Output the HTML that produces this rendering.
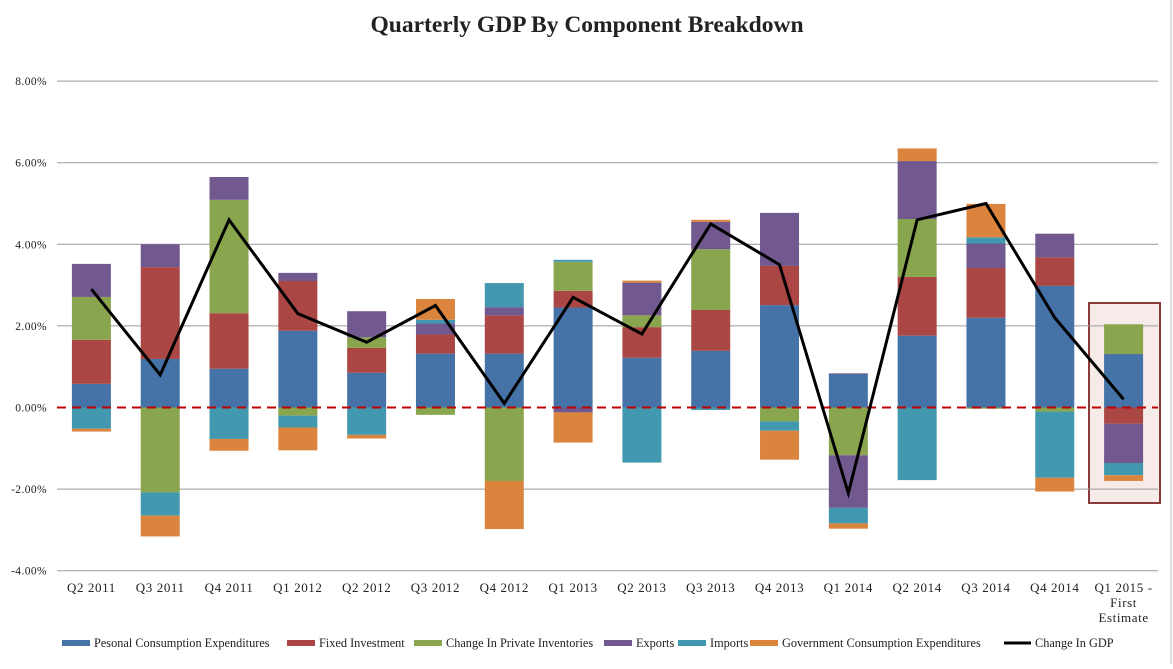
<!DOCTYPE html>
<html><head><meta charset="utf-8"><style>
body{margin:0;background:#fff;width:1173px;height:664px;overflow:hidden;}
svg text{font-family:"Liberation Serif",serif;fill:#222;}
</style></head><body>
<svg id="chart" width="1173" height="664" xmlns="http://www.w3.org/2000/svg">
<line x1="1171" y1="0" x2="1171" y2="664" stroke="#bbb"/>
<text x="587" y="32" text-anchor="middle" font-size="23.5" font-weight="bold">Quarterly GDP By Component Breakdown</text>
<rect x="1089" y="303" width="71" height="200" fill="#f7ebea" stroke="#8b3a3a" stroke-width="2"/>
<g id="grid"></g><g id="bars"></g><g id="line"></g><g id="labels"></g><g id="legend"></g>
</svg>
<script>
const categories=["Q2 2011","Q3 2011","Q4 2011","Q1 2012","Q2 2012","Q3 2012","Q4 2012","Q1 2013","Q2 2013","Q3 2013","Q4 2013","Q1 2014","Q2 2014","Q3 2014","Q4 2014","Q1 2015 - First Estimate"];
const seriesNames=["Pesonal Consumption Expenditures","Fixed Investment","Change In Private Inventories","Exports","Imports","Government Consumption Expenditures"];
const pce=[0.58,1.19,0.95,1.88,0.85,1.32,1.32,2.45,1.22,1.39,2.51,0.83,1.76,2.2,2.98,1.31];
const fixedInv=[1.08,2.25,1.36,1.22,0.61,0.47,0.94,0.41,0.75,1.0,0.96,0.01,1.44,1.22,0.7,-0.4];
const inventories=[1.05,-2.08,2.78,-0.2,0.26,-0.18,-1.8,0.71,0.29,1.49,-0.34,-1.17,1.42,-0.03,-0.1,0.73];
const exportsV=[0.81,0.56,0.56,0.2,0.64,0.27,0.2,-0.12,0.8,0.67,1.3,-1.29,1.42,0.6,0.58,-0.96];
const importsV=[-0.52,-0.57,-0.77,-0.29,-0.67,0.09,0.59,0.05,-1.35,-0.06,-0.23,-0.38,-1.78,0.15,-1.62,-0.3];
const govV=[-0.07,-0.51,-0.29,-0.56,-0.09,0.51,-1.18,-0.74,0.05,0.05,-0.71,-0.13,0.31,0.82,-0.34,-0.14];
const gdp=[2.9,0.8,4.6,2.3,1.6,2.5,0.1,2.7,1.8,4.5,3.5,-2.1,4.6,5.0,2.2,0.2];
const yTicks=[8,6,4,2,0,-2,-4];
const colors=["#4572a7","#aa4643","#89a54e","#71588f","#4198af","#db843d"];
const series=[pce,fixedInv,inventories,exportsV,importsV,govV];
const NS="http://www.w3.org/2000/svg";
const x0=57,x1=1158,band=(x1-x0)/categories.length,bw=39;
const y=v=>407.5-v*40.8;
const xc=i=>x0+band*(i+0.5);
function mk(tag,attrs,parent){const e=document.createElementNS(NS,tag);for(const k in attrs)e.setAttribute(k,attrs[k]);document.getElementById(parent).appendChild(e);return e;}
yTicks.forEach(t=>{
  if(t!==0){const l=mk('line',{x1:x0,x2:x1,y1:y(t),y2:y(t),stroke:'#9a9a9a','stroke-width':1},'grid');
  
  }
  const tx=mk('text',{x:47,y:y(t)+4,'text-anchor':'end','font-size':11.5,'letter-spacing':'0.4'},'grid');
  tx.textContent=t.toFixed(2)+'%';
  
  
});
categories.forEach((c,i)=>{
  let pos=0,neg=0;
  series.forEach((s,k)=>{
    const v=s[i];let a,b;
    if(v>=0){a=pos;b=pos+v;pos=b;}else{a=neg;b=neg+v;neg=b;}
    const r=mk('rect',{x:xc(i)-bw/2,y:Math.min(y(a),y(b)),width:bw,height:Math.abs(y(a)-y(b)),fill:colors[k]},'bars');
    
    
  });
  const lines=c==="Q1 2015 - First Estimate"?["Q1 2015 -","First","Estimate"]:[c];
  lines.forEach((t,j)=>{
    const tx=mk('text',{x:xc(i),y:592+j*15,'text-anchor':'middle','font-size':13,'letter-spacing':'0.6'},'labels');
    tx.textContent=t;
    
    
  });
});
const z=mk('line',{x1:x0,x2:x1,y1:y(0),y2:y(0),stroke:'#c00000','stroke-width':2,'stroke-dasharray':'9,6'},'line');


const p=mk('polyline',{points:gdp.map((v,i)=>xc(i)+','+y(v)).join(' '),fill:'none',stroke:'#000','stroke-width':3,'stroke-linejoin':'miter'},'line');


const legX=[62,287,414,604,678,750];
seriesNames.forEach((n,k)=>{
  const r=mk('rect',{x:legX[k],y:640,width:28,height:6,fill:colors[k]},'legend');
  
  
  const t=mk('text',{x:legX[k]+32,y:647,'font-size':12.3},'legend');
  t.textContent=n;
  
  
});
const ll=mk('line',{x1:1004,x2:1031,y1:643,y2:643,stroke:'#000','stroke-width':3},'legend');


const lt=mk('text',{x:1035,y:647,'font-size':12.3},'legend');
lt.textContent='Change In GDP';


</script>
</body></html>
